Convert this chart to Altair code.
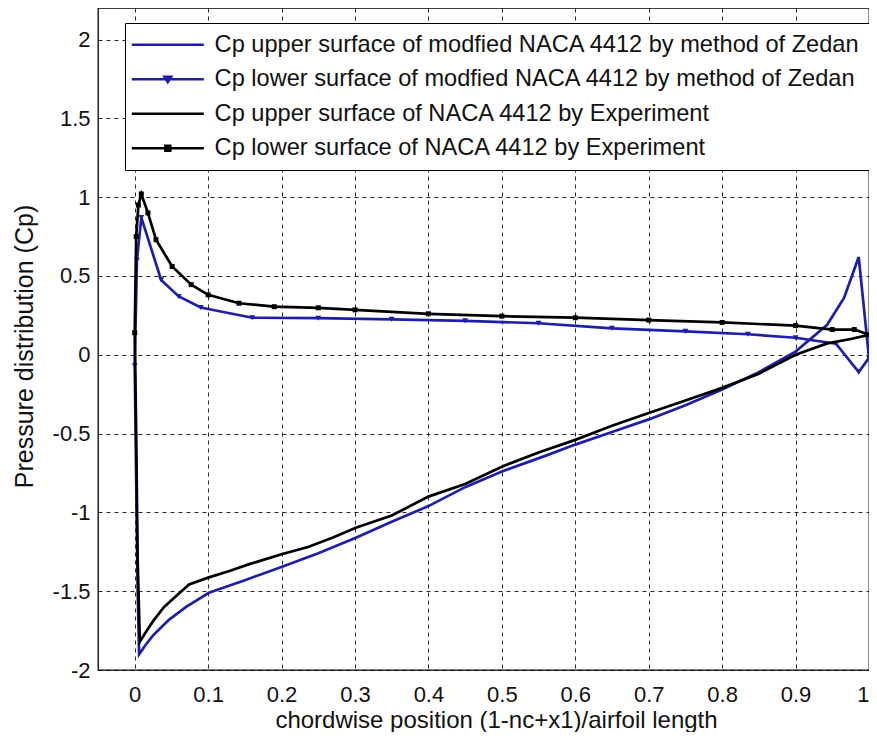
import altair as alt
import pandas as pd

FONT = "Liberation Sans"

SERIES = [
    "Cp upper surface of modfied NACA 4412 by method of Zedan",
    "Cp lower surface of modfied NACA 4412 by method of Zedan",
    "Cp upper surface of NACA 4412 by Experiment",
    "Cp lower surface of NACA 4412 by Experiment",
]
COLORS = ["#1e1eaa", "#1e1eaa", "#000000", "#000000"]
LEGEND_SHAPES = [
    "M-7.2,0H7.2",
    "M-7.2,0H7.2M-0.7,-0.5L0.7,-0.5L0,0.6Z",
    "M-7.2,0H7.2",
    "M-7.2,0H7.2M-0.5,-0.5H0.5V0.5H-0.5Z",
]

# Zedan, upper surface (blue, no markers)
zu_x = [0, 0.002, 0.004, 0.006, 0.015, 0.025, 0.047, 0.07, 0.101, 0.15, 0.198, 0.25,
        0.302, 0.35, 0.4, 0.45, 0.5, 0.56, 0.6, 0.65, 0.7, 0.75, 0.8, 0.85, 0.9,
        0.943, 0.966, 0.986, 1.0]
zu_y = [-0.07, -0.8, -1.5, -1.9, -1.84, -1.78, -1.68, -1.6, -1.51, -1.43, -1.35, -1.26,
        -1.16, -1.06, -0.96, -0.84, -0.74, -0.64, -0.57, -0.49, -0.41, -0.32, -0.22, -0.11, 0.02,
        0.19, 0.36, 0.62, -0.02]

# Zedan, lower surface (blue, triangle markers)
zl_x = [0, 0.003, 0.009, 0.036, 0.06, 0.09, 0.16, 0.25, 0.35, 0.45, 0.55, 0.65,
        0.75, 0.835, 0.9, 0.955, 0.986, 1.0]
zl_y = [-0.07, 0.6, 0.87, 0.475, 0.37, 0.3, 0.235, 0.232, 0.225, 0.215, 0.2, 0.168,
        0.148, 0.13, 0.108, 0.07, -0.11, -0.02]

# Experiment, upper surface (black, no markers)
eu_x = [0, 0.002, 0.004, 0.007, 0.015, 0.025, 0.04, 0.052, 0.074, 0.1, 0.13, 0.155,
        0.2, 0.236, 0.27, 0.302, 0.35, 0.4, 0.45, 0.5, 0.55, 0.6, 0.65, 0.7, 0.75,
        0.8, 0.85, 0.9, 0.943, 0.975, 1.0]
eu_y = [0.15, -0.5, -1.3, -1.82, -1.76, -1.69, -1.6, -1.55, -1.457, -1.414, -1.37, -1.33,
        -1.266, -1.22, -1.16, -1.096, -1.02, -0.9, -0.82, -0.71, -0.62, -0.54, -0.45, -0.37, -0.29,
        -0.21, -0.12, 0.0, 0.072, 0.1, 0.127]

# Experiment, lower surface (black, square markers)
el_x = [0, 0.002, 0.005, 0.009, 0.018, 0.029, 0.051, 0.077, 0.1, 0.142, 0.19, 0.25,
        0.3, 0.4, 0.5, 0.6, 0.7, 0.8, 0.9, 0.95, 0.98, 1.0]
el_y = [0.14, 0.75, 0.95, 1.02, 0.9, 0.73, 0.56, 0.445, 0.38, 0.327, 0.305, 0.298,
        0.285, 0.26, 0.245, 0.235, 0.22, 0.205, 0.185, 0.16, 0.16, 0.127]

X_TICKS = [0, 0.1, 0.2, 0.3, 0.4, 0.5, 0.6, 0.7, 0.8, 0.9, 1]
Y_TICKS = [-2, -1.5, -1, -0.5, 0, 0.5, 1, 1.5, 2]

rows = []
for s, xs, ys in zip(SERIES, [zu_x, zl_x, eu_x, el_x], [zu_y, zl_y, eu_y, el_y]):
    for i, (xv, yv) in enumerate(zip(xs, ys)):
        rows.append({"series": s, "x": xv, "y": yv, "i": i})
df = pd.DataFrame(rows)

xscale = alt.Scale(domain=[-0.05, 1], nice=False, zero=False)
yscale = alt.Scale(domain=[-2, 2.2], nice=False, zero=False)
cscale = alt.Scale(domain=SERIES, range=COLORS)

xaxis = alt.Axis(values=X_TICKS, labelExpr="'' + datum.value",
                 title="chordwise position (1-nc+x1)/airfoil length",
                 titleX=398, titleY=50, titleBaseline="middle", titleFontSize=24,
                 labelPadding=14)
yaxis = alt.Axis(values=Y_TICKS, labelExpr="'' + datum.value",
                 title="Pressure distribution (Cp)",
                 titleX=-74, titleY=338, titleBaseline="middle", titleAngle=270,
                 titleFontSize=25, labelPadding=8)

X = alt.X("x:Q", scale=xscale, axis=xaxis)
Y = alt.Y("y:Q", scale=yscale, axis=yaxis)

base = alt.Chart(df)


def line_layer(k):
    return base.transform_filter(
        alt.FieldEqualPredicate(field="series", equal=SERIES[k])
    ).mark_line(strokeWidth=2.7, color=COLORS[k]).encode(x=X, y=Y, order="i:Q")


def point_layer(k, shape, size):
    return base.transform_filter(
        alt.FieldEqualPredicate(field="series", equal=SERIES[k])
    ).mark_point(filled=True, shape=shape, size=size, opacity=1, color=COLORS[k]).encode(x=X, y=Y)


legend = alt.Legend(
    orient="none", legendX=27, legendY=15, title=None,
    labelFont=FONT, labelFontSize=23.6, labelColor="#111", labelLimit=2000,
    symbolSize=100, symbolOffset=21, labelOffset=35, symbolStrokeWidth=2.4,
    symbolOpacity=1, rowPadding=9.5, padding=10,
    strokeColor="#000", fillColor="#fff",
)

legend_layer = base.mark_point(opacity=0, filled=False, strokeWidth=2.4).encode(
    x=X, y=Y,
    color=alt.Color("series:N", scale=cscale, legend=legend),
    shape=alt.Shape("series:N", scale=alt.Scale(domain=SERIES, range=LEGEND_SHAPES), legend=legend),
)

chart = alt.layer(
    line_layer(0),
    line_layer(1),
    point_layer(1, "triangle-down", 35),
    line_layer(2),
    line_layer(3),
    point_layer(3, "square", 25),
    legend_layer,
).properties(
    width=771, height=662,
    autosize=alt.AutoSizeParams(type="none"),
    padding={"left": 90, "top": 0, "right": 0, "bottom": 62},
    background="#ffffff",
).configure_view(
    stroke="#000", strokeWidth=1.3
).configure_axis(
    grid=True, gridColor="#000", gridDash=[4, 4], gridWidth=1, gridOpacity=0.85,
    domain=False, ticks=False,
    labelFont=FONT, labelFontSize=22, labelColor="#111",
    titleFont=FONT, titleColor="#111", titleFontWeight="normal",
)

chart.save("out.html", embed_options={"renderer": "svg", "actions": False})
